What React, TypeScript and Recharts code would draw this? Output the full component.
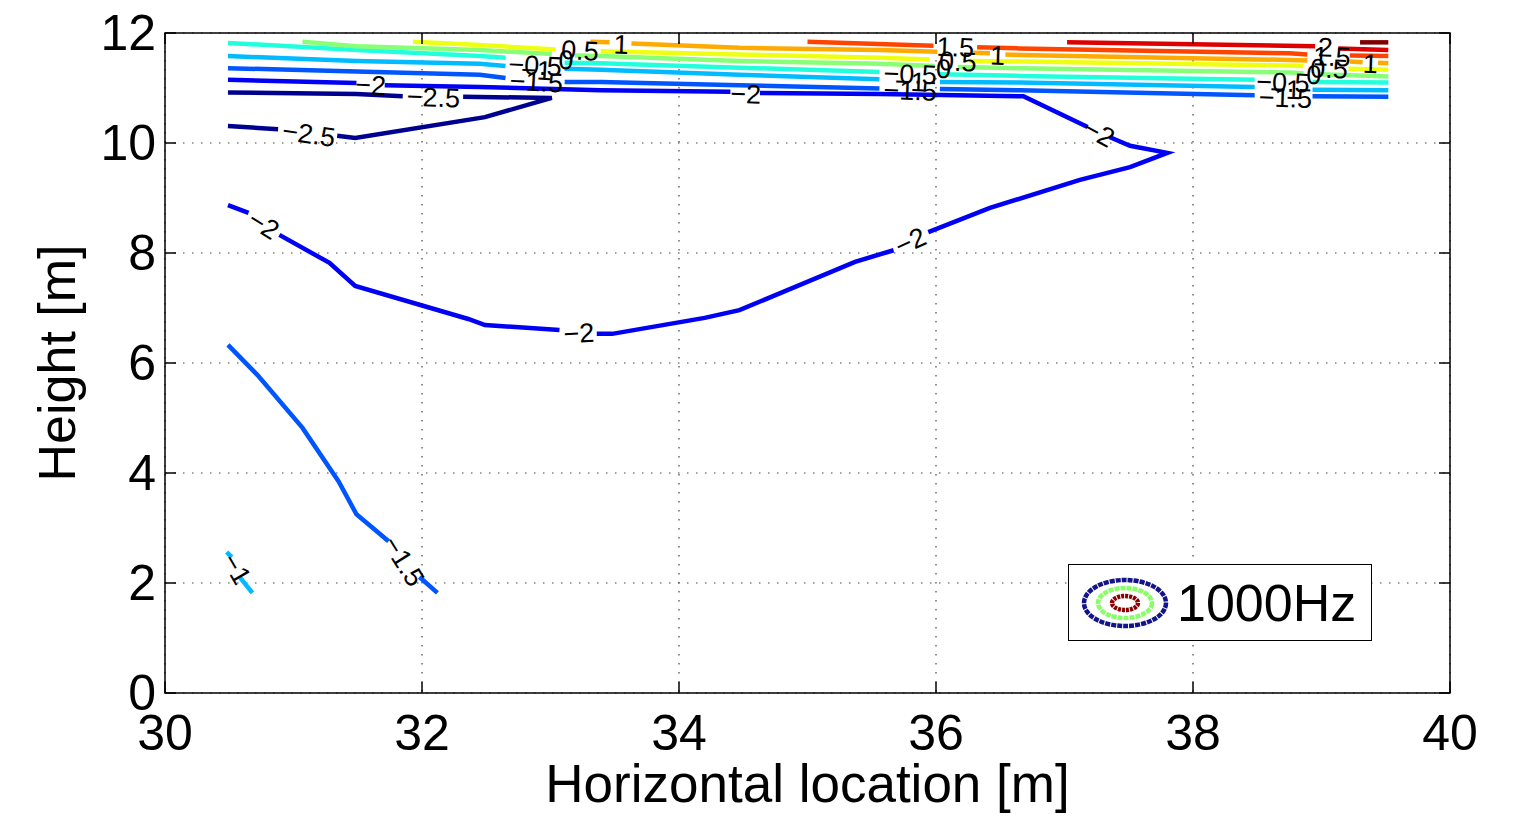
import {
  LineChart, Line, XAxis, YAxis, CartesianGrid, ReferenceArea, ReferenceDot, Legend, Label,
} from "recharts";

type Pt = [number, number];

const W = 1516;
const H = 817;
const PLOT_LEFT = 165;
const PLOT_RIGHT = 1450;
const PLOT_TOP = 33;
const PLOT_BOTTOM = 693;
const TICK_LEN = 11;
const FONT = '"Liberation Sans", Arial, Helvetica, sans-serif';

const xTicks = [30, 32, 34, 36, 38, 40];
const yTicks = [0, 2, 4, 6, 8, 10, 12];
const xTitle = "Horizontal location [m]";
const yTitle = "Height [m]";
const legendLabel = "1000Hz";

// contour levels (dB re. reference) and their jet colours
const levels = [-2.5, -2, -1.5, -1, -0.5, 0, 0.5, 1, 1.5, 2, 2.5];
const levelColors = [
  "#00008f", "#0000f5", "#0055ff", "#00bbff", "#22ffdd", "#88ff77",
  "#eeff11", "#ffaa00", "#ff4400", "#dd0000", "#800000",
];

// each contour is a list of runs, split where a label sits on the line
const contourM25: Pt[][] = [
  [[30.49, 10.92], [31.49, 10.89], [31.85, 10.85]],
  [[32.32, 10.84], [33.01, 10.82], [32.49, 10.47], [31.48, 10.09], [31.34, 10.13]],
  [[30.88, 10.25], [30.49, 10.31]],
];
const contourM20: Pt[][] = [
  [[30.49, 11.15], [31.49, 11.09]],
  [[31.71, 11.05], [32.45, 11.02], [33.39, 10.96], [34.40, 10.93]],
  [[34.63, 10.91], [35.56, 10.89], [36.68, 10.85], [37.18, 10.29]],
  [[37.35, 10.11], [37.51, 9.95], [37.80, 9.82], [37.51, 9.56], [37.12, 9.33], [36.42, 8.82], [35.94, 8.38]],
  [[35.67, 8.05], [35.37, 7.84], [34.47, 6.96], [34.20, 6.82], [33.48, 6.53], [33.36, 6.53]],
  [[33.07, 6.60], [32.49, 6.69], [32.36, 6.80], [31.48, 7.40], [31.28, 7.82], [30.89, 8.33]],
  [[30.65, 8.73], [30.49, 8.87]],
];
const contourM15: Pt[][] = [
  [[30.49, 11.36], [31.49, 11.30], [32.45, 11.24], [32.65, 11.18]],
  [[33.11, 11.11], [33.39, 11.11], [34.47, 11.05], [35.56, 10.99]],
  [[36.03, 10.98], [36.65, 10.96], [38.48, 10.87]],
  [[38.93, 10.85], [39.52, 10.84]],
  [[30.49, 6.33], [30.72, 5.78], [31.07, 4.82], [31.35, 3.85], [31.49, 3.25], [31.74, 2.76]],
  [[31.98, 2.11], [32.12, 1.82]],
];
const contourM10: Pt[][] = [
  [[30.49, 11.58], [31.49, 11.49], [32.45, 11.44], [32.65, 11.40]],
  [[33.11, 11.35], [33.39, 11.33], [34.47, 11.24], [35.56, 11.16]],
  [[36.03, 11.11], [36.65, 11.10], [38.48, 11.02]],
  [[38.93, 10.97], [39.52, 10.96]],
  [[30.48, 2.56], [30.52, 2.47]],
  [[30.58, 2.11], [30.68, 1.82]],
];
const contourM05: Pt[][] = [
  [[30.49, 11.82], [31.49, 11.69], [32.45, 11.58], [32.65, 11.55]],
  [[33.11, 11.46], [33.39, 11.45], [34.47, 11.37], [35.56, 11.29]],
  [[36.03, 11.25], [36.65, 11.22], [38.48, 11.15]],
  [[38.93, 11.11], [39.52, 11.10]],
];
const contour00: Pt[][] = [
  [[31.07, 11.84], [31.49, 11.76], [32.45, 11.69], [33.01, 11.62]],
  [[33.19, 11.59], [33.39, 11.58], [34.47, 11.49], [35.56, 11.44], [35.99, 11.40]],
  [[36.17, 11.38], [36.65, 11.36], [38.75, 11.28], [38.86, 11.27]],
  [[38.99, 11.25], [39.52, 11.21]],
];
const contour05: Pt[][] = [
  [[31.93, 11.84], [32.45, 11.78], [33.04, 11.70]],
  [[33.39, 11.67], [34.47, 11.61], [35.56, 11.55], [35.95, 11.52]],
  [[36.26, 11.49], [36.65, 11.48], [38.75, 11.41], [38.86, 11.40]],
  [[39.21, 11.35], [39.52, 11.33]],
];
const contour10: Pt[][] = [
  [[33.31, 11.84], [33.46, 11.83]],
  [[33.63, 11.81], [34.47, 11.73], [35.56, 11.69], [36.01, 11.66]],
  [[36.29, 11.64], [36.42, 11.63]],
  [[36.54, 11.61], [36.65, 11.60], [38.75, 11.51], [38.89, 11.50]],
  [[39.22, 11.48], [39.32, 11.47]],
  [[39.44, 11.46], [39.52, 11.45]],
];
const contour15: Pt[][] = [
  [[35.00, 11.84], [35.98, 11.77]],
  [[36.32, 11.74], [36.65, 11.72], [38.75, 11.63], [38.89, 11.61]],
  [[39.22, 11.59], [39.52, 11.58]],
];
const contour20: Pt[][] = [
  [[37.02, 11.83], [38.95, 11.76]],
  [[39.13, 11.72], [39.52, 11.69]],
];
const contour25: Pt[][] = [
  [[39.30, 11.83], [39.52, 11.83]],
];

const contourRuns = [
  contourM25, contourM20, contourM15, contourM10, contourM05, contour00,
  contour05, contour10, contour15, contour20, contour25,
];

// inline contour labels: level, anchor (data units), text rotation in degrees
const contourLabels = [
  { level: -2.5, x: 32.09, y: 10.84, angle: 2 },
  { level: -2.5, x: 31.12, y: 10.17, angle: 8 },
  { level: -2, x: 31.60, y: 11.06, angle: 3 },
  { level: -2, x: 34.52, y: 10.90, angle: 2 },
  { level: -2, x: 37.27, y: 10.19, angle: 28 },
  { level: -2, x: 35.80, y: 8.22, angle: -24 },
  { level: -2, x: 33.22, y: 6.55, angle: -3 },
  { level: -2, x: 30.77, y: 8.52, angle: 32 },
  { level: -1.5, x: 32.89, y: 11.12, angle: 3 },
  { level: -1.5, x: 35.80, y: 10.96, angle: 2 },
  { level: -1.5, x: 38.72, y: 10.83, angle: 2 },
  { level: -1.5, x: 31.86, y: 2.40, angle: 58 },
  { level: -1, x: 32.89, y: 11.33, angle: 3 },
  { level: -1, x: 35.80, y: 11.12, angle: 2 },
  { level: -1, x: 38.72, y: 10.98, angle: 2 },
  { level: -1, x: 30.56, y: 2.26, angle: 60 },
  { level: -0.5, x: 32.88, y: 11.42, angle: 3 },
  { level: -0.5, x: 35.80, y: 11.26, angle: 2 },
  { level: -0.5, x: 38.70, y: 11.11, angle: 2 },
  { level: 0, x: 33.12, y: 11.52, angle: 3 },
  { level: 0, x: 36.06, y: 11.36, angle: 2 },
  { level: 0, x: 38.94, y: 11.25, angle: 2 },
  { level: 0.5, x: 33.23, y: 11.69, angle: 3 },
  { level: 0.5, x: 36.17, y: 11.49, angle: 2 },
  { level: 0.5, x: 39.06, y: 11.36, angle: 2 },
  { level: 1, x: 33.55, y: 11.80, angle: 2 },
  { level: 1, x: 36.48, y: 11.60, angle: 2 },
  { level: 1, x: 39.38, y: 11.45, angle: 2 },
  { level: 1.5, x: 36.15, y: 11.75, angle: 2 },
  { level: 1.5, x: 39.08, y: 11.58, angle: 2 },
  { level: 2, x: 39.03, y: 11.75, angle: 2 },
];

const fmtLevel = (v: number) => (v < 0 ? "\u2212" + Math.abs(v) : String(v));

// flatten runs into one series, with null breaks between runs
function toLineData(runs: Pt[][]) {
  return runs.flatMap((run, i) => {
    const pts = run.map(([x, y]) => ({ x, y: y as number | null }));
    return i === 0 ? pts : [{ x: run[0][0], y: null }, ...pts];
  });
}

function XTick({ x, payload }: any) {
  return (
    <g>
      <line x1={x} y1={PLOT_BOTTOM} x2={x} y2={PLOT_BOTTOM - TICK_LEN} stroke="#000" strokeWidth={1.5} />
      <line x1={x} y1={PLOT_TOP} x2={x} y2={PLOT_TOP + TICK_LEN} stroke="#000" strokeWidth={1.5} />
      <text x={x} y={PLOT_BOTTOM + 21} dy="0.71em" textAnchor="middle" fontSize={50} fontFamily={FONT} fill="#000">
        {payload.value}
      </text>
    </g>
  );
}

function YTick({ y, payload }: any) {
  return (
    <g>
      <line x1={PLOT_LEFT} y1={y} x2={PLOT_LEFT + TICK_LEN} y2={y} stroke="#000" strokeWidth={1.5} />
      <line x1={PLOT_RIGHT} y1={y} x2={PLOT_RIGHT - TICK_LEN} y2={y} stroke="#000" strokeWidth={1.5} />
      <text x={PLOT_LEFT - 9} y={y} dy="0.34em" textAnchor="end" fontSize={50} fontFamily={FONT} fill="#000">
        {payload.value}
      </text>
    </g>
  );
}

function ContourLegend() {
  return (
    <div
      style={{
        width: 304, height: 77, boxSizing: "border-box", border: "1.5px solid #000",
        background: "#fff", display: "flex", alignItems: "center",
      }}
    >
      <svg width={108} height={74} style={{ flex: "none" }}>
        <ellipse cx={56} cy={37} rx={41} ry={23} fill="none" stroke="#14148a" strokeWidth={4.5} strokeDasharray="5 1" />
        <ellipse cx={56} cy={37} rx={27} ry={15} fill="none" stroke="#88ff66" strokeWidth={4.5} strokeDasharray="5 1" />
        <ellipse cx={56} cy={37} rx={13} ry={7} fill="none" stroke="#8b0000" strokeWidth={4.5} strokeDasharray="3 1" />
      </svg>
      <span style={{ fontFamily: FONT, fontSize: 52, lineHeight: 1, color: "#000" }}>{legendLabel}</span>
    </div>
  );
}

export default function App() {
  return (
    <div style={{ position: "absolute", left: 0, top: 0, width: W, height: H, background: "#fff" }}>
      <LineChart
        width={W}
        height={H}
        margin={{ top: PLOT_TOP, right: W - PLOT_RIGHT, bottom: 0, left: 0 }}
      >
        <CartesianGrid stroke="#444" strokeWidth={1.2} strokeDasharray="1.5 7.5" />
        <XAxis
          type="number" dataKey="x" domain={[30, 40]} ticks={xTicks} interval={0}
          allowDataOverflow height={H - PLOT_BOTTOM} axisLine={false} tickLine={false} tick={<XTick />}
        >
          <Label
            content={() => (
              <text x={(PLOT_LEFT + PLOT_RIGHT) / 2} y={802} textAnchor="middle" fontSize={53} fontFamily={FONT} fill="#000">
                {xTitle}
              </text>
            )}
          />
        </XAxis>
        <YAxis
          type="number" domain={[0, 12]} ticks={yTicks} interval={0}
          allowDataOverflow width={PLOT_LEFT} axisLine={false} tickLine={false} tick={<YTick />}
        >
          <Label
            content={() => (
              <text
                x={75} y={(PLOT_TOP + PLOT_BOTTOM) / 2} transform={`rotate(-90 75 ${(PLOT_TOP + PLOT_BOTTOM) / 2})`}
                textAnchor="middle" fontSize={52} fontFamily={FONT} fill="#000"
              >
                {yTitle}
              </text>
            )}
          />
        </YAxis>
        <ReferenceArea x1={30} x2={40} y1={0} y2={12} fill="none" fillOpacity={0} stroke="#000" strokeWidth={1.5} />
        {contourRuns.map((runs, i) => (
          <Line
            key={levels[i]}
            data={toLineData(runs)}
            dataKey="y"
            type="linear"
            stroke={levelColors[i]}
            strokeWidth={4.5}
            dot={false}
            activeDot={false}
            connectNulls={false}
            legendType="none"
            isAnimationActive={false}
          />
        ))}
        {contourLabels.map((l, i) => (
          <ReferenceDot
            key={i}
            x={l.x}
            y={l.y}
            r={0}
            ifOverflow="visible"
            shape={(p: any) => (
              <text
                x={p.cx} y={p.cy} dy="0.36em" transform={`rotate(${l.angle} ${p.cx} ${p.cy})`}
                textAnchor="middle" fontSize={27} fontFamily={FONT} fill="#000"
              >
                {fmtLevel(l.level)}
              </text>
            )}
          />
        ))}
        <Legend
          layout="vertical"
          align="center"
          verticalAlign="middle"
          content={() => <ContourLegend />}
          wrapperStyle={{ left: 1068, top: 564, width: 304, height: 77 }}
        />
      </LineChart>
    </div>
  );
}
